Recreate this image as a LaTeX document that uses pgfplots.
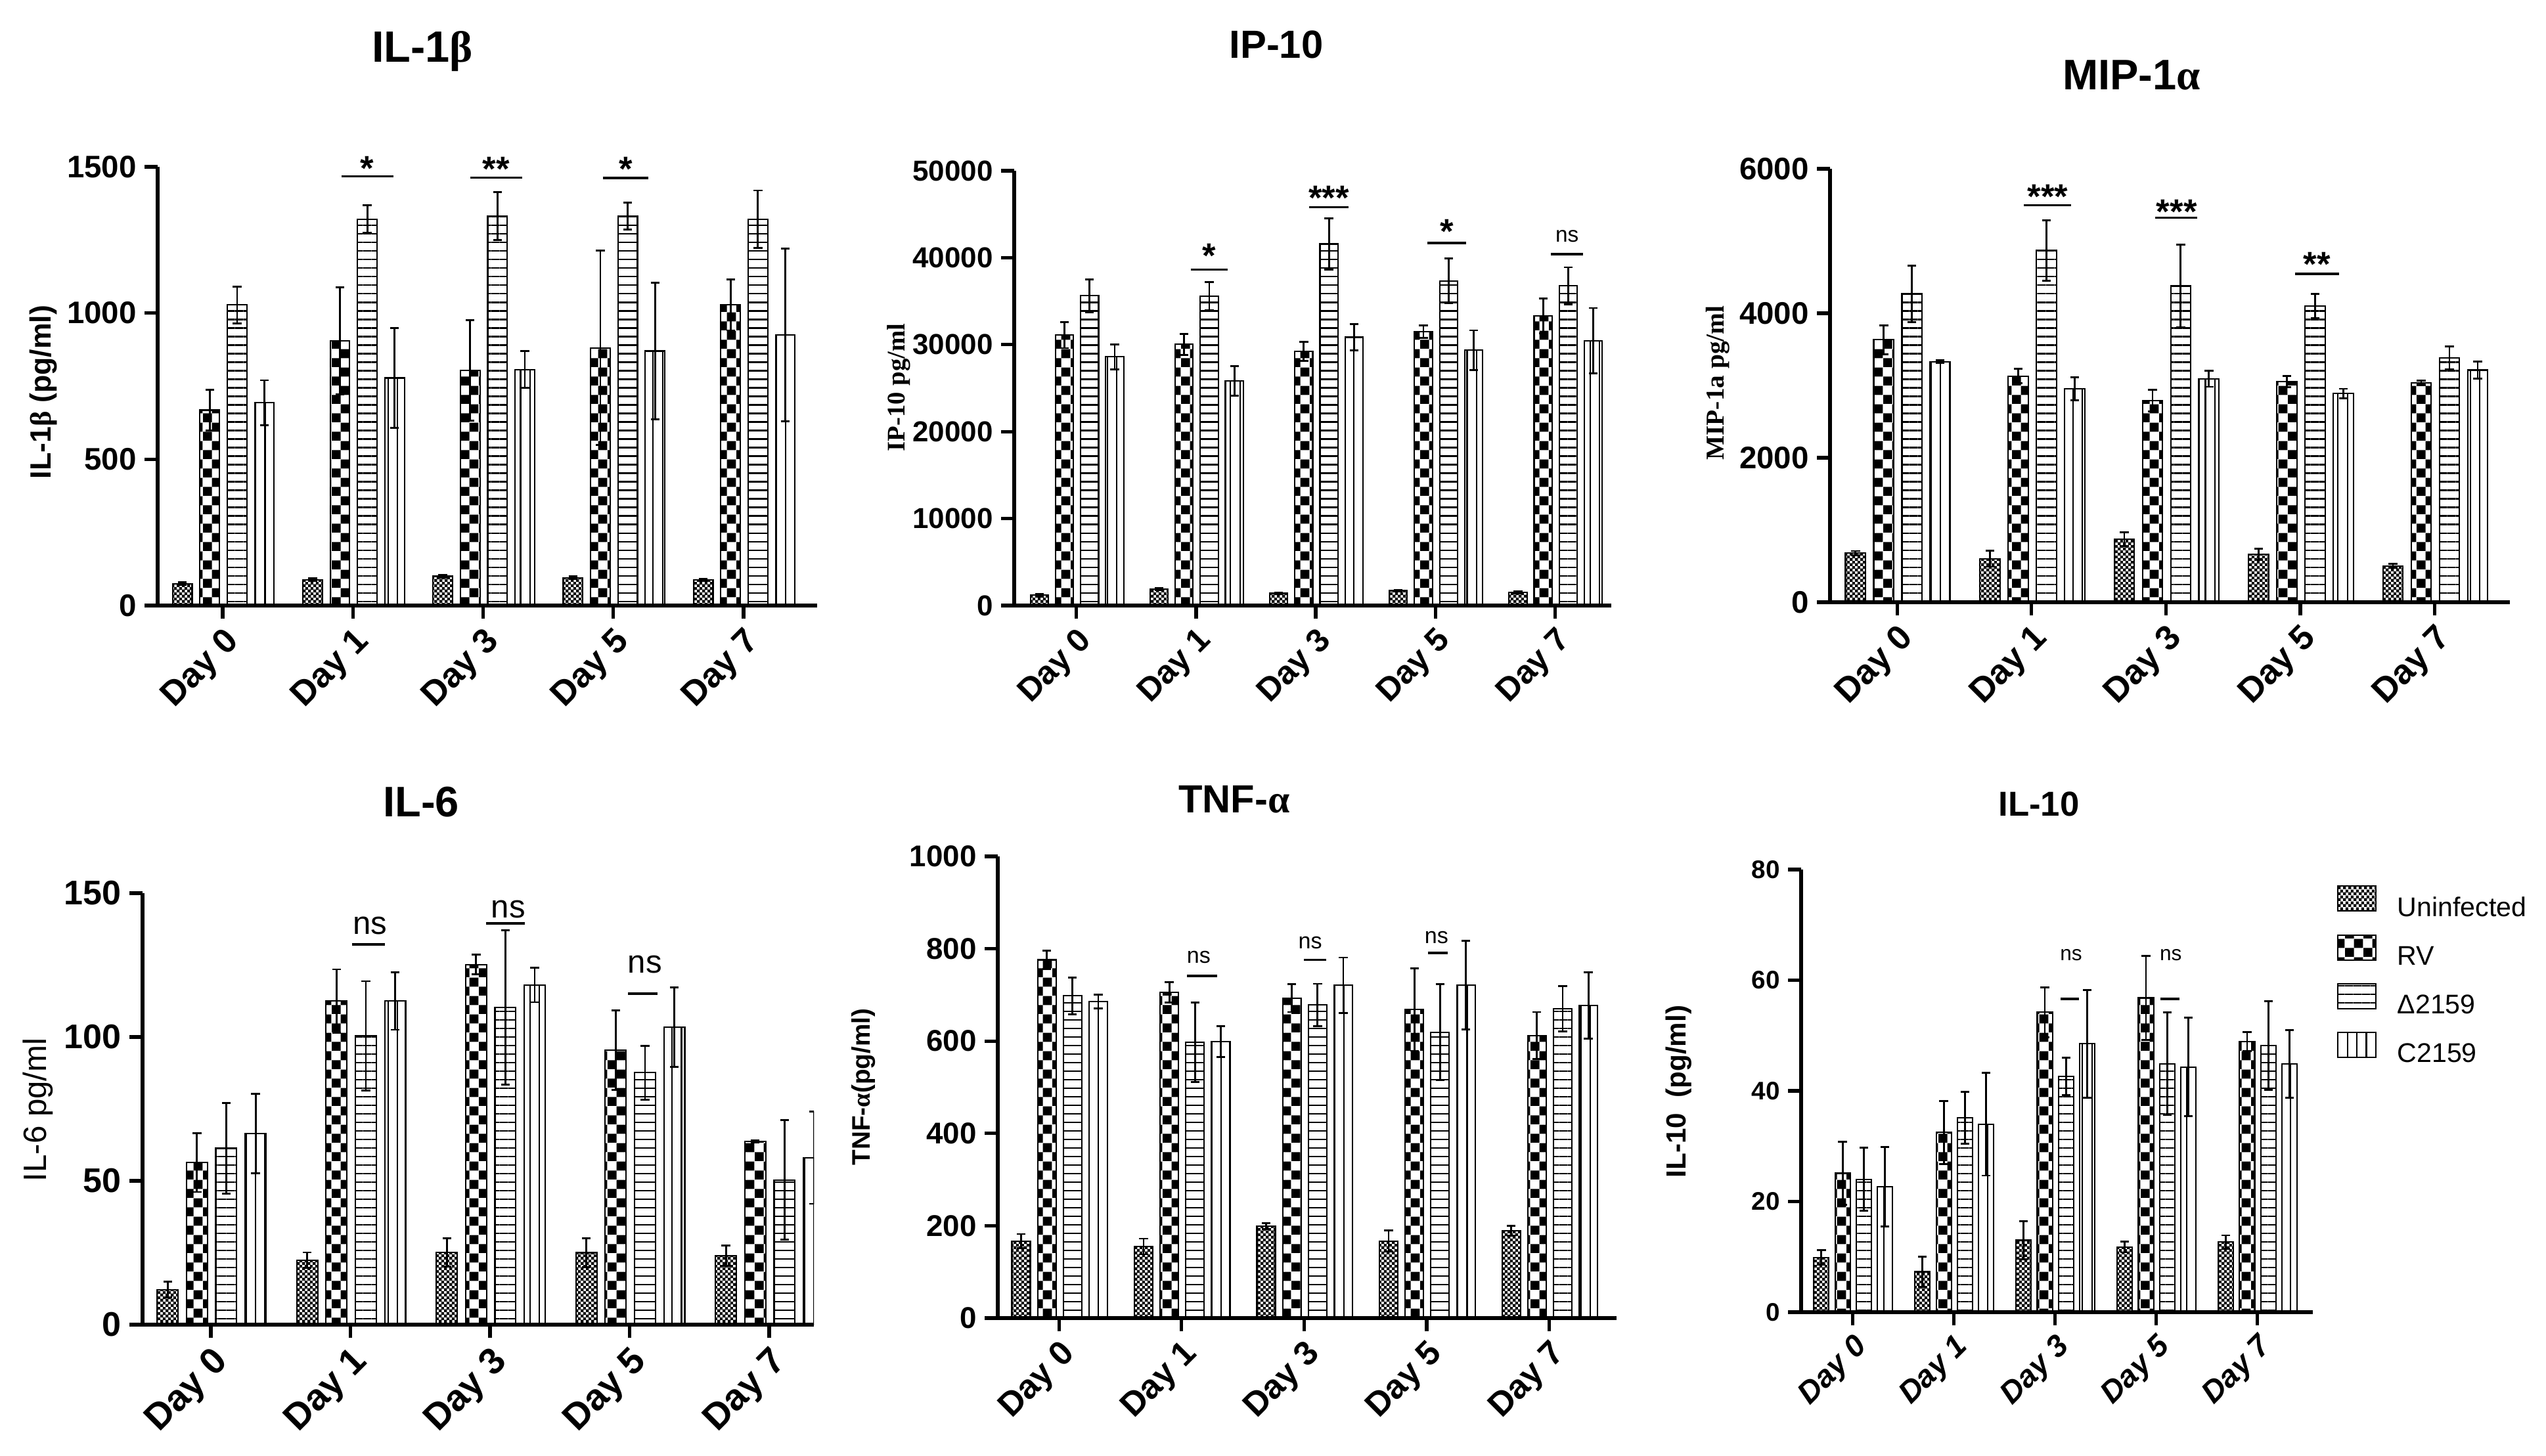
\documentclass[border=0pt]{standalone}
\usepackage{fontspec}
\setmainfont{Liberation Sans}
\newfontfamily\grk{Liberation Serif}
\newfontfamily\tms{Liberation Serif}
\usepackage{pgfplots}
\pgfplotsset{compat=1.18}
\usepackage{pgfplotstable}
\usetikzlibrary{patterns,patterns.meta}

\newcommand\fs[1]{\fontsize{#1}{#1}\selectfont}

% coarse checkerboard (RV) and fine checkerboard (uninfected)
\tikzdeclarepattern{
  name=rvcheck, type=uncolored,
  bounding box={(0pt,0pt) and (8pt,8pt)},
  tile size={(8pt,8pt)},
  code={\fill (0pt,0pt) rectangle (4pt,4pt); \fill (4pt,4pt) rectangle (8pt,8pt);}
}
\tikzdeclarepattern{
  name=finecheck, type=uncolored,
  bounding box={(0pt,0pt) and (2.4pt,2.4pt)},
  tile size={(2.4pt,2.4pt)},
  code={\fill (0pt,0pt) rectangle (1.3pt,1.3pt); \fill (1.2pt,1.2pt) rectangle (2.5pt,2.5pt);}
}

\pgfplotsset{
  panel/.style={
    scale only axis, anchor=south west, ymin=0, enlargelimits=false,
    axis x line*=bottom, axis y line*=left,
    axis line style={line width=1.6pt},
    tick style={line width=1.5pt, black},
    major tick length=0.2cm, tick align=outside,
    xtick={0,1,2,3,4}, xticklabels={Day 0,Day 1,Day 3,Day 5,Day 7},
    x tick label style={rotate=45, anchor=north east, inner sep=2pt},
    scaled y ticks=false,
    y tick label style={/pgf/number format/fixed,/pgf/number format/1000 sep={},
      /pgf/number format/assume math mode=true},
    clip mode=individual,
  },
  bars/.style={ybar, bar width=0.15, bar shift=0pt, draw=black, line width=0.6pt,
    /pgfplots/error bars/y dir=both, /pgfplots/error bars/y explicit,
    /pgfplots/error bars/error mark=-,
    /pgfplots/error bars/error bar style={line width=0.8pt, black},
    /pgfplots/error bars/error mark options={rotate=90, black, line width=0.8pt, mark size=1.9pt}},
  uninf/.style={bars, pattern=finecheck, pattern color=black,
    legend image code/.code={\draw[draw=black,line width=0.6pt,pattern=finecheck,pattern color=black] (0cm,-0.04cm) rectangle (0.58cm,0.34cm);}},
  rv/.style={bars, pattern=rvcheck, pattern color=black,
    legend image code/.code={\draw[draw=black,line width=0.6pt,pattern=rvcheck,pattern color=black] (0cm,-0.04cm) rectangle (0.58cm,0.34cm);}},
  del/.style={bars, pattern={Lines[angle=0,distance=3.7pt,line width=0.6pt]},
    legend image code/.code={\draw[draw=black,line width=0.6pt,pattern={Lines[angle=0,distance=3.7pt,line width=0.6pt]}] (0cm,-0.04cm) rectangle (0.58cm,0.34cm);}},
  comp/.style={bars, pattern={Lines[angle=90,distance=4.1pt,line width=0.6pt]},
    legend image code/.code={\draw[draw=black,line width=0.6pt,pattern={Lines[angle=90,distance=4.1pt,line width=0.6pt]}] (0cm,-0.04cm) rectangle (0.58cm,0.34cm);}},
}

% significance bar: x1, x2, y of line, x of text, y of text, text, font
\newcommand\sig[7]{%
  \draw[line width=1pt] (axis cs:#1,#3) -- (axis cs:#2,#3);
  \node[font=#7, inner sep=0pt] at (axis cs:#4,#5) {#6};}

% columns: mean and SEM for Uninfected (u), RV (r), Delta2159 (d), C2159 (c)
\pgfplotstableread{
x u ue r re d de c ce
0 75 5 668 70 1028 63 693 77
1 88 5 905 183 1321 47 778 171
2 100 4 804 172 1332 82 807 63
3 95 4 881 332 1332 46 870 234
4 87 4 1028 87 1321 98 925 296
}\tILb
\pgfplotstableread{
x u ue r re d de c ce
0 1180 150 31100 1500 35620 1900 28600 1450
1 1880 150 30040 1200 35570 1600 25860 1700
2 1400 100 29240 1100 41580 2950 30850 1500
3 1700 100 31490 700 37340 2600 29350 2300
4 1500 100 33320 2000 36750 2150 30470 3750
}\tIP
\pgfplotstableread{
x u ue r re d de c ce
0 679 30 3634 200 4268 390 3330 20
1 601 110 3130 100 4869 420 2955 160
2 873 97 2793 150 4377 576 3091 110
3 666 78 3052 78 4099 169 2890 65
4 504 26 3039 32 3382 161 3214 116
}\tMIP
\pgfplotstableread{
x u ue r re d de c ce
0 12.2 2.7 56.3 10.2 61.3 15.7 66.5 13.8
1 22.4 2.7 112.5 11 100.4 19 112.5 10
2 25.1 4.9 125.2 3.4 110.3 26.8 118.1 6
3 25.0 5 95.4 13.8 87.6 9.4 103.5 13.8
4 24.0 3.6 63.7 0.3 50.3 20.8 58 16
}\tILsix
\pgfplotstableread{
x u ue r re d de c ce
0 167 15 776 20 698 40 686 15
1 155 17 706 22 597 86 599 33
2 199 6 693 30 678 46 721 60
3 167 23 668 89 619 104 721 96
4 189 11 612 51 670 49 677 72
}\tTNF
\pgfplotstableread{
x u ue r re d de c ce
0 9.9 1.3 25.1 5.7 24.0 5.7 22.7 7.2
1 7.3 2.7 32.5 5.7 35.1 4.7 34.0 9.3
2 13.0 3.4 54.2 4.5 42.6 3.4 48.5 9.7
3 11.8 1.0 56.8 7.6 44.9 9.3 44.3 8.9
4 12.7 1.2 48.9 1.7 48.2 8.0 44.9 6.1
}\tILten

% four bars per day, offset inside each group
\newcommand\fourbars[1]{%
  \addplot[uninf] table[x expr=\thisrow{x}-0.31,y=u,y error=ue]{#1};
  \addplot[rv] table[x expr=\thisrow{x}-0.10,y=r,y error=re]{#1};
  \addplot[del] table[x expr=\thisrow{x}+0.11,y=d,y error=de]{#1};
  \addplot[comp] table[x expr=\thisrow{x}+0.32,y=c,y error=ce]{#1};}

\begin{document}
\begin{tikzpicture}
\path[use as bounding box] (0,0) rectangle (38.76,22.16);

% ---------- IL-1beta ----------
\begin{axis}[panel, at={(2.40cm,12.94cm)}, width=10.04cm, height=6.68cm,
  xmin=-0.5, xmax=4.565, ymax=1500, ytick={0,500,1000,1500},
  yticklabel style={font=\bfseries\fs{13.5}}, xticklabel style={font=\bfseries\fs{15}}]
\fourbars{\tILb}
\sig{0.91}{1.31}{1467}{1.11}{1495}{*}{\bfseries\fs{15}}
\sig{1.90}{2.30}{1463}{2.10}{1492}{**}{\bfseries\fs{15}}
\sig{2.92}{3.27}{1462}{3.095}{1492}{*}{\bfseries\fs{15}}
\end{axis}
\node[font=\bfseries\fs{19}] at (6.43,21.38) {IL-1{\grk β}};
\node[rotate=90, font=\bfseries\fs{12.7}] at (0.66,16.19) {IL-1{\grk β} (pg/ml)};

% ---------- IP-10 ----------
\begin{axis}[panel, at={(15.44cm,12.94cm)}, width=9.09cm, height=6.62cm,
  xmin=-0.52, xmax=4.47, ymax=50000, ytick={0,10000,...,50000},
  yticklabel style={font=\bfseries\fs{12.5}}, xticklabel style={font=\bfseries\fs{14.2}}]
\fourbars{\tIP}
\sig{0.955}{1.263}{38630}{1.11}{40200}{*}{\bfseries\fs{15}}
\sig{1.946}{2.272}{45820}{2.11}{46900}{***}{\bfseries\fs{15}}
\sig{2.932}{3.258}{41690}{3.095}{43000}{*}{\bfseries\fs{15}}
\sig{3.964}{4.236}{40400}{4.10}{42500}{ns}{\fs{9.5}}
\end{axis}
\node[font=\bfseries\fs{17}] at (19.43,21.48) {IP-10};
\node[rotate=90, font=\tms\bfseries\fs{11}] at (13.68,16.26) {IP-10 pg/ml};

% ---------- MIP-1alpha ----------
\begin{axis}[panel, at={(27.86cm,12.99cm)}, width=10.35cm, height=6.60cm,
  xmin=-0.5, xmax=4.56, ymax=6000, ytick={0,2000,4000,6000},
  yticklabel style={font=\bfseries\fs{13.5}}, xticklabel style={font=\bfseries\fs{15}}]
\fourbars{\tMIP}
\sig{0.943}{1.295}{5496}{1.12}{5617}{***}{\bfseries\fs{15}}
\sig{1.92}{2.234}{5321}{2.08}{5404}{***}{\bfseries\fs{15}}
\sig{2.96}{3.29}{4546}{3.125}{4680}{**}{\bfseries\fs{15}}
\end{axis}
\node[font=\bfseries\fs{18.5}] at (32.45,21.02) {MIP-1{\grk α}};
\node[rotate=90, font=\tms\bfseries\fs{11.2}] at (26.15,16.33) {MIP-1a pg/ml};

% ---------- IL-6 ----------
\begin{axis}[panel, at={(2.17cm,1.99cm)}, width=10.22cm, height=6.57cm,
  xmin=-0.49, xmax=4.32, ymax=150, ytick={0,50,100,150},
  yticklabel style={font=\bfseries\fs{14.8}}, xticklabel style={font=\bfseries\fs{16}}]
\fourbars{\tILsix}
\sig{1.01}{1.245}{132.2}{1.14}{138.6}{ns}{\fs{14}}
\sig{1.97}{2.25}{139.5}{2.13}{144.3}{ns}{\fs{14}}
\sig{2.99}{3.20}{115.1}{3.11}{125.2}{ns}{\fs{14}}
\end{axis}
\node[font=\bfseries\fs{18.5}] at (6.41,9.95) {IL-6};
\node[rotate=90, font=\fs{14}] at (0.58,5.26) {IL-6 pg/ml};

% ---------- TNF-alpha ----------
\begin{axis}[panel, at={(15.19cm,2.09cm)}, width=9.42cm, height=7.03cm,
  xmin=-0.5, xmax=4.55, ymax=1000, ytick={0,200,...,1000},
  yticklabel style={font=\bfseries\fs{13}}, xticklabel style={font=\bfseries\fs{14.7}}]
\fourbars{\tTNF}
\sig{1.044}{1.29}{741}{1.14}{782}{ns}{\fs{9.7}}
\sig{2.0}{2.18}{776}{2.05}{813}{ns}{\fs{9.7}}
\sig{3.01}{3.17}{791}{3.08}{825}{ns}{\fs{9.7}}
\end{axis}
\node[font=\bfseries\fs{17}] at (18.79,9.99) {TNF-{\grk α}};
\node[rotate=90, font=\bfseries\fs{11}] at (13.15,5.61) {TNF-{\grk α}(pg/ml)};

% ---------- IL-10 ----------
\begin{axis}[panel, at={(27.42cm,2.18cm)}, width=7.79cm, height=6.74cm,
  xmin=-0.51, xmax=4.55, ymax=80, ytick={0,20,...,80},
  yticklabel style={font=\bfseries\fs{11}}, xticklabel style={font=\bfseries\itshape\fs{13.3}},
  legend style={at={(axis description cs:1.046,0.965)}, anchor=north west, draw=none, fill=none,
    font=\fs{11.7}, row sep=0.22cm, column sep=0.32cm, inner sep=0pt, nodes={inner sep=0pt}},
  legend cell align=left]
\fourbars{\tILten}
\sig{2.054}{2.24}{56.6}{2.16}{64.6}{ns}{\fs{9}}
\sig{3.04}{3.23}{56.6}{3.145}{64.6}{ns}{\fs{9}}
\legend{Uninfected,RV,Δ2159,C2159}
\end{axis}
\node[font=\bfseries\fs{15}] at (31.04,9.92) {IL-10};
\node[rotate=90, font=\bfseries\fs{12}] at (25.56,5.54) {IL-10 \ (pg/ml)};
\end{tikzpicture}
\end{document}
